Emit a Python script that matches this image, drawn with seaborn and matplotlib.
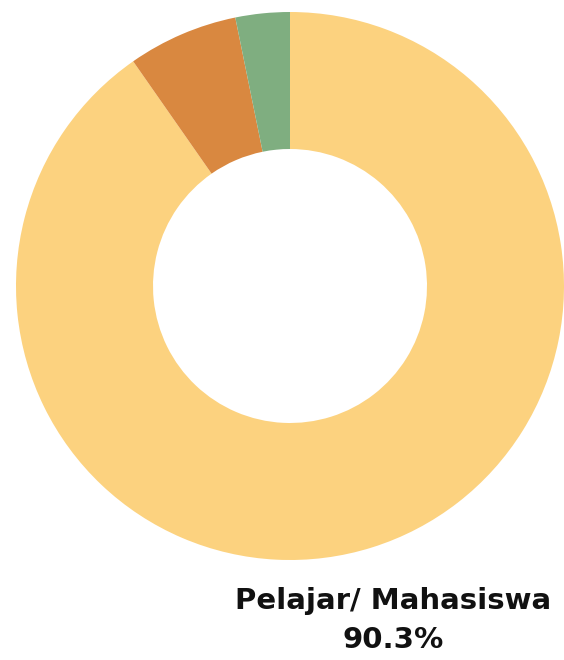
import matplotlib
matplotlib.use("Agg")
import matplotlib.pyplot as plt
import seaborn as sns

# Occupation share of respondents
categories = ["Pelajar/ Mahasiswa", "Pekerja", "Lainnya"]
shares = [90.3, 6.5, 3.2]
slice_colors = ["#FCD27F", "#D98840", "#7FAE80"]

sns.set_theme(style="white")
plt.rcParams["font.family"] = ["DejaVu Sans"]

W, H = 564, 660
fig = plt.figure(figsize=(W / 100, H / 100), dpi=100)
ax = fig.add_axes([0, 0, 1, 1])

palette = sns.color_palette(slice_colors)
wedges, _ = ax.pie(
    shares,
    colors=palette,
    startangle=90,
    counterclock=False,
    radius=1.0,
    wedgeprops=dict(width=0.5, edgecolor="none"),
)

# pixel layout: ring radius 274 px, centre at (290, 286) from top-left
r_px, cx, cy = 274.0, 290.0, 286.0
ax.set_xlim(-cx / r_px, (W - cx) / r_px)
ax.set_ylim(-(H - cy) / r_px, cy / r_px)
ax.set_aspect("auto")
ax.axis("off")

# label for the dominant slice
lx = (393 - cx) / r_px
ax.text(lx, -(601 - cy) / r_px, categories[0], ha="center", va="center",
        fontsize=21, fontweight="heavy", color="#111111")
ax.text(lx, -(640 - cy) / r_px, f"{shares[0]}%", ha="center", va="center",
        fontsize=21, fontweight="heavy", color="#111111")

fig.savefig("out.png", dpi=100)
